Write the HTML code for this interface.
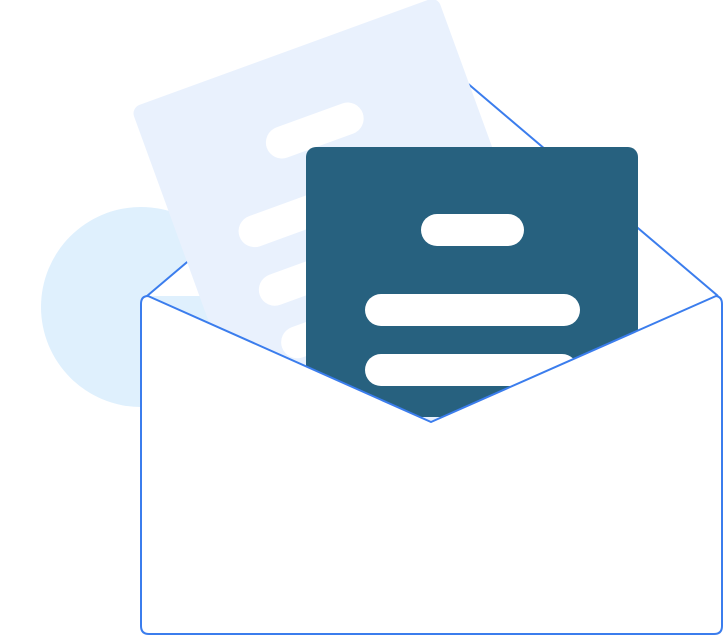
<!DOCTYPE html>
<html><head><style>html,body{margin:0;padding:0;background:#fff;}svg{display:block}</style></head>
<body>
<svg width="725" height="636" viewBox="0 0 725 636" xmlns="http://www.w3.org/2000/svg">
<circle cx="141" cy="307" r="100" fill="#dff0fd"/>
<polygon points="147,296 433,54 718,296" fill="#fff"/>
<polyline points="147,296 433,54 718,296" fill="none" stroke="#3b7ded" stroke-width="2" stroke-linejoin="round"/>
<g transform="translate(131,108) rotate(-20)">
<rect x="0" y="0" width="326" height="420" rx="9" fill="#e9f1fd"/>
<g stroke="#fff" stroke-width="32" stroke-linecap="round">
<line x1="130" y1="84" x2="200" y2="84"/>
<line x1="74" y1="158" x2="260" y2="158"/>
<line x1="73" y1="220" x2="260" y2="220"/>
<line x1="76" y1="277" x2="260" y2="277"/>
</g>
</g>
<rect x="306" y="147" width="332" height="270" rx="10" fill="#27617f"/>
<g stroke="#fff" stroke-width="32" stroke-linecap="round">
<line x1="437" y1="230" x2="508" y2="230"/>
<line x1="381" y1="310" x2="564" y2="310"/>
<line x1="381" y1="370" x2="562" y2="370"/>
</g>
<path d="M141,304 Q141,296 148,296 L431,422 L716,296 Q722,297 722,304 L722,626 Q722,634 714,634 L149,634 Q141,634 141,626 Z" fill="#fff" stroke="#3b7ded" stroke-width="2" stroke-linejoin="round"/>
</svg>
</body></html>
